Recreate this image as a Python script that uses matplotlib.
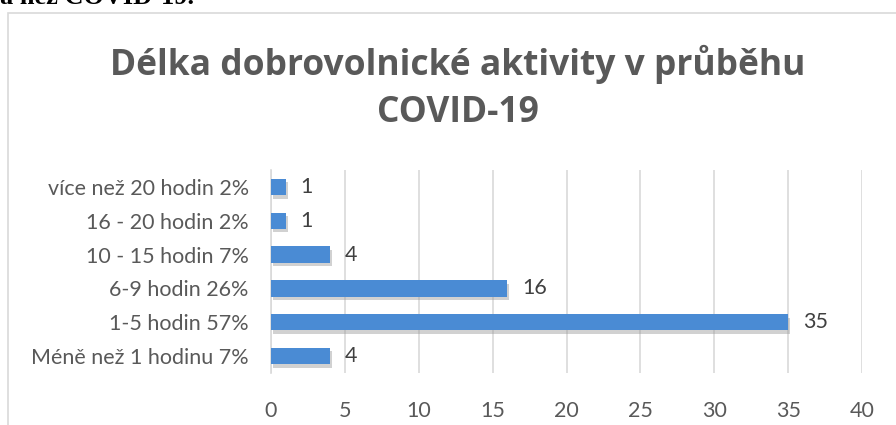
import matplotlib
matplotlib.use("Agg")
import matplotlib.pyplot as plt
from matplotlib.patches import Rectangle
import matplotlib.patheffects as pe

categories = ["Méně než 1 hodinu 7%", "1-5 hodin 57%", "6-9 hodin 26%",
              "10 - 15 hodin 7%", "16 - 20 hodin 2%", "více než 20 hodin 2%"]
values = [4, 35, 16, 4, 1, 1]
xticks = [0, 5, 10, 15, 20, 25, 30, 35, 40]
title = "Délka dobrovolnické aktivity v průběhu\nCOVID-19"
top_text = "a než COVID-19."

W, H = 896, 425
fig = plt.figure(figsize=(W / 100, H / 100), dpi=100)
fig.patch.set_facecolor("white")
plt.rcParams['font.family'] = ['Lato', 'DejaVu Sans']

# chart border (extends beyond canvas on right/bottom)
fig.patches.append(Rectangle((8 / W, -0.1), 1.2, 1 - 13 / H + 0.1, transform=fig.transFigure,
                             fill=False, edgecolor="#d9d9d9", linewidth=1.2))

# cut-off document text at the top (only its lower part is visible in the crop)
fig.text(0 / W, 1 - 4 / H, top_text, family=["Liberation Serif"], fontweight="bold",
         fontsize=19, color="black", va="baseline", ha="left")

ax = fig.add_axes([271 / W, 1 - 373 / H, (862 - 271) / W, (373 - 170) / H])
bars = ax.barh(range(len(values)), values, height=0.48, color="#4a8bd4", zorder=3)
for b in bars:
    b.set_path_effects([pe.SimplePatchShadow(offset=(1.5, -2.5), shadow_rgbFace="#9a9a9a", alpha=0.45),
                        pe.Normal()])

ax.set_xlim(0, 40)
ax.set_ylim(-0.5, len(values) - 0.5)
ax.set_xticks(xticks)
ax.set_xticklabels([str(t) for t in xticks])
ax.set_yticks(range(len(values)))
ax.set_yticklabels(categories)
ax.tick_params(axis="both", length=0, labelsize=15.5, colors="#595959")
ax.tick_params(axis="x", pad=20)
ax.tick_params(axis="y", pad=16)
ax.grid(axis="x", color="#d9d9d9", linewidth=1.2, zorder=0)
for s in ["top", "right", "bottom"]:
    ax.spines[s].set_visible(False)
ax.spines["left"].set_color("#d9d9d9")
ax.spines["left"].set_linewidth(1.2)

for i, v in enumerate(values):
    ax.text(v + 1.0, i, str(v), va="center", ha="left", fontsize=15.5, color="#404040")

fig.text(458 / W, 1 - 88 / H, title, ha="center", va="center", fontsize=25.5,
         family=["Open Sans", "DejaVu Sans"], fontweight="bold", color="#595959",
         linespacing=1.4)

fig.savefig("out.png", dpi=100)
